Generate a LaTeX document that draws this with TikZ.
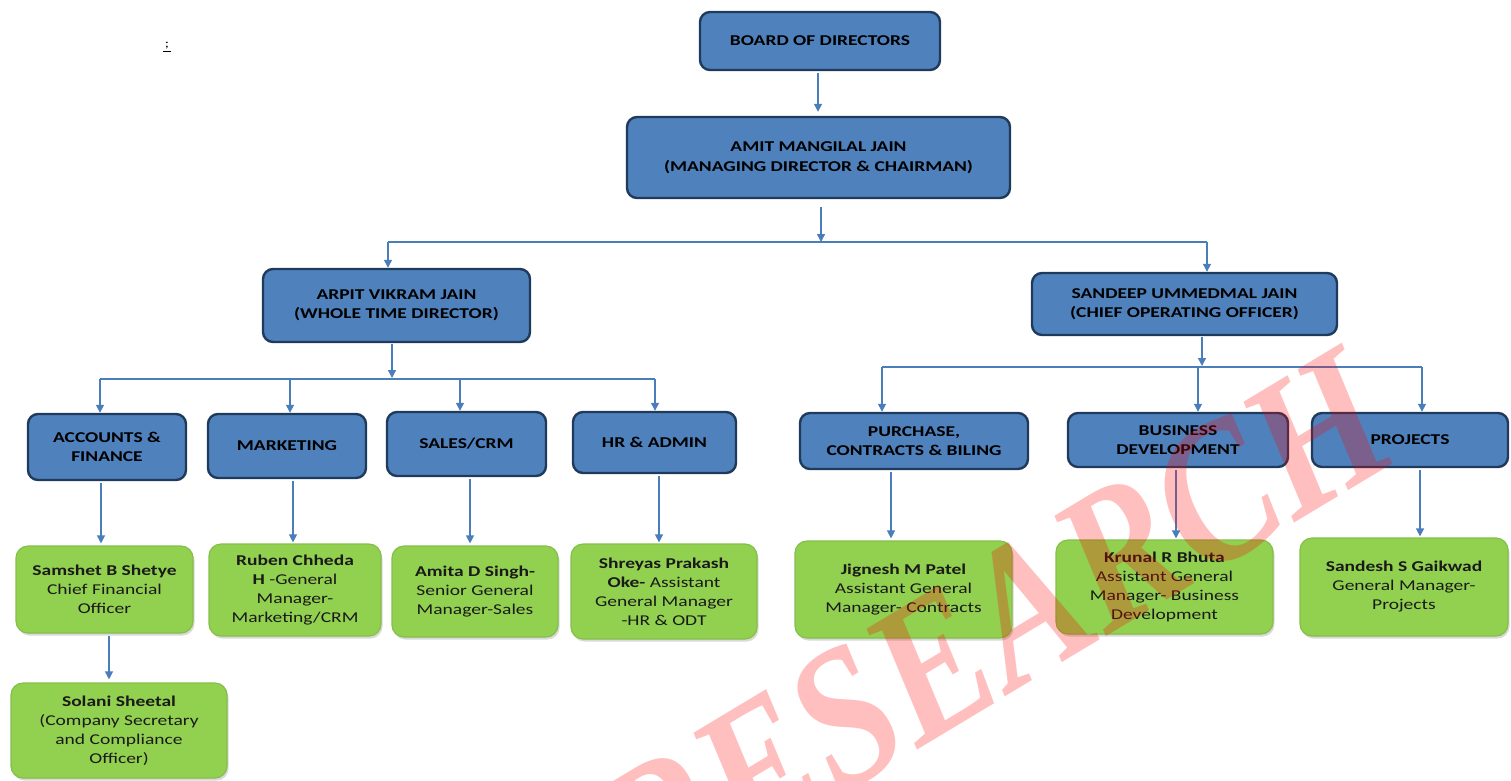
\documentclass[tikz,border=0pt]{standalone}
\usepackage{fontspec}
\setmainfont{Carlito}[FakeStretch=1.3]
\newfontfamily\wmfont{Liberation Serif}
\usetikzlibrary{arrows.meta,shadows}
\definecolor{bluefill}{HTML}{4F81BD}
\definecolor{blueedge}{HTML}{1F3A5A}
\definecolor{greenfill}{HTML}{92D050}
\definecolor{greenedge}{HTML}{84C048}
\definecolor{arrowcol}{HTML}{4A7EBB}
\definecolor{gtext}{HTML}{1A1A1A}
\begin{document}
\begin{tikzpicture}[x=1pt,y=-1pt,
  bluebox/.style={draw=blueedge,fill=bluefill,line width=2.4pt,rounded corners=10pt,
    inner sep=0pt,align=center,font=\fontsize{15}{19.5}\selectfont\bfseries,text=black},
  greenbox/.style={draw=greenedge,fill=greenfill,line width=1.2pt,rounded corners=12pt,
    inner sep=0pt,align=center,font=\fontsize{15}{19}\selectfont,text=gtext,
    drop shadow={shadow xshift=1.5pt,shadow yshift=-2.5pt,opacity=0.25,fill=black!60}},
  arr/.style={draw=arrowcol,line width=1.3pt,-{Triangle[length=8pt,width=8pt]}},
  bus/.style={draw=arrowcol,line width=1.3pt}
]
\useasboundingbox (0,0) rectangle (1511,780);

% stray mark top left
\node[inner sep=0pt,font=\fontsize{12}{12}\selectfont] (mark) at (167,47) {\underline{\,;\,}};

% blue boxes
\node[bluebox,minimum width=240,minimum height=58] (board) at (820,41) {BOARD OF DIRECTORS};
\node[bluebox,minimum width=383,minimum height=81] (amit) at (818.5,157.5) {AMIT MANGILAL JAIN\\(MANAGING DIRECTOR \& CHAIRMAN)};
\node[bluebox,minimum width=267,minimum height=73] (arpit) at (396.5,305.5) {ARPIT VIKRAM JAIN\\(WHOLE TIME DIRECTOR)};
\node[bluebox,minimum width=305,minimum height=62] (sandeep) at (1184.5,304) {SANDEEP UMMEDMAL JAIN\\(CHIEF OPERATING OFFICER)};
\node[bluebox,minimum width=158,minimum height=66] (acc) at (107,447) {ACCOUNTS \&\\FINANCE};
\node[bluebox,minimum width=158,minimum height=64] (mkt) at (287,446) {MARKETING};
\node[bluebox,minimum width=159,minimum height=64] (sales) at (466.5,444) {SALES/CRM};
\node[bluebox,minimum width=163,minimum height=61] (hr) at (654.5,442.5) {HR \& ADMIN};
\node[bluebox,minimum width=228,minimum height=56] (purch) at (914,441) {PURCHASE,\\CONTRACTS \& BILING};
\node[bluebox,minimum width=220,minimum height=54] (bd) at (1178,440) {BUSINESS\\DEVELOPMENT};
\node[bluebox,minimum width=196,minimum height=54] (proj) at (1410,440) {PROJECTS};

% green boxes
\node[greenbox,minimum width=177,minimum height=87] (samshet) at (104.5,589.5) {\textbf{Samshet B Shetye}\\Chief Financial\\Officer};
\node[greenbox,minimum width=172,minimum height=92] (ruben) at (295,590) {\textbf{Ruben Chheda}\\\textbf{H} -General\\Manager-\\Marketing/CRM};
\node[greenbox,minimum width=166,minimum height=91] (amita) at (475,591.5) {\textbf{Amita D Singh-}\\Senior General\\Manager-Sales};
\node[greenbox,minimum width=186,minimum height=95] (shreyas) at (664,591.5) {\textbf{Shreyas Prakash}\\\textbf{Oke-} Assistant\\General Manager\\-HR \& ODT};
\node[greenbox,minimum width=217,minimum height=97] (jignesh) at (903.5,589.5) {\textbf{Jignesh M Patel}\\Assistant General\\Manager- Contracts};
\node[greenbox,minimum width=217,minimum height=94] (krunal) at (1164.5,587) {\textbf{Krunal R Bhuta}\\Assistant General\\Manager- Business\\Development};
\node[greenbox,minimum width=208,minimum height=98] (sandesh) at (1404,587) {\textbf{Sandesh S Gaikwad}\\General Manager-\\Projects};
\node[greenbox,minimum width=216,minimum height=95] (solani) at (119,730.5) {\textbf{Solani Sheetal}\\(Company Secretary\\and Compliance\\Officer)};

% connectors level 0
\coordinate (c0) at (818,0);
\draw[arr,shorten <=2pt,shorten >=4pt] (c0 |- board.south) -- (c0 |- amit.north);

% level 1
\coordinate (b1) at (821,242);
\coordinate (b1l) at (388,242);
\coordinate (b1r) at (1207,242);
\draw[arr,shorten <=8pt] (amit.south -| b1) -- (b1);
\draw[bus] (b1l) -- (b1r);
\draw[arr] (b1l) -- (b1l |- arpit.north);
\draw[arr] (b1r) -- (b1r |- sandeep.north);

% level 2 left
\coordinate (b2) at (392,378);
\coordinate (b2a) at (100,379);
\coordinate (b2b) at (290,379);
\coordinate (b2c) at (460,379);
\coordinate (b2d) at (655,379);
\draw[arr,shorten <=1pt] (arpit.south -| b2) -- (b2);
\draw[bus] (b2a) -- (b2d);
\draw[arr] (b2a) -- (b2a |- acc.north);
\draw[arr] (b2b) -- (b2b |- mkt.north);
\draw[arr] (b2c) -- (b2c |- sales.north);
\draw[arr] (b2d) -- (b2d |- hr.north);

% level 2 right
\coordinate (b3) at (1202,366);
\coordinate (b3a) at (882,367);
\coordinate (b3b) at (1198,367);
\coordinate (b3c) at (1422,367);
\draw[arr,shorten <=1pt] (sandeep.south -| b3) -- (b3);
\draw[bus] (b3a) -- (b3c);
\draw[arr] (b3a) -- (b3a |- purch.north);
\draw[arr] (b3b) -- (b3b |- bd.north);
\draw[arr] (b3c) -- (b3c |- proj.north);

% level 3
\coordinate (c1) at (101,0);
\coordinate (c2) at (293,0);
\coordinate (c3) at (470,0);
\coordinate (c4) at (659,0);
\coordinate (c5) at (891,0);
\coordinate (c6) at (1176,0);
\coordinate (c7) at (1420,0);
\coordinate (c8) at (109,0);
\draw[arr,shorten <=2pt,shorten >=2pt] (c1 |- acc.south) -- (c1 |- samshet.north);
\draw[arr,shorten <=2pt,shorten >=1pt] (c2 |- mkt.south) -- (c2 |- ruben.north);
\draw[arr,shorten <=2pt,shorten >=2pt] (c3 |- sales.south) -- (c3 |- amita.north);
\draw[arr,shorten <=2pt,shorten >=1pt] (c4 |- hr.south) -- (c4 |- shreyas.north);
\draw[arr,shorten <=2pt,shorten >=2pt] (c5 |- purch.south) -- (c5 |- jignesh.north);
\draw[arr,shorten <=2pt,shorten >=1pt] (c6 |- bd.south) -- (c6 |- krunal.north);
\draw[arr,shorten <=2pt,shorten >=1pt] (c7 |- proj.south) -- (c7 |- sandesh.north);
\draw[arr,shorten <=2pt,shorten >=3pt] (c8 |- samshet.south) -- (c8 |- solani.north);

% watermark
\node[text=red,opacity=0.25,rotate=31,yscale=1.2,inner sep=0pt,
  font=\wmfont\bfseries\itshape\fontsize{165}{165}\selectfont] (wm) at (995,628) {RESEARCH};
\end{tikzpicture}
\end{document}
